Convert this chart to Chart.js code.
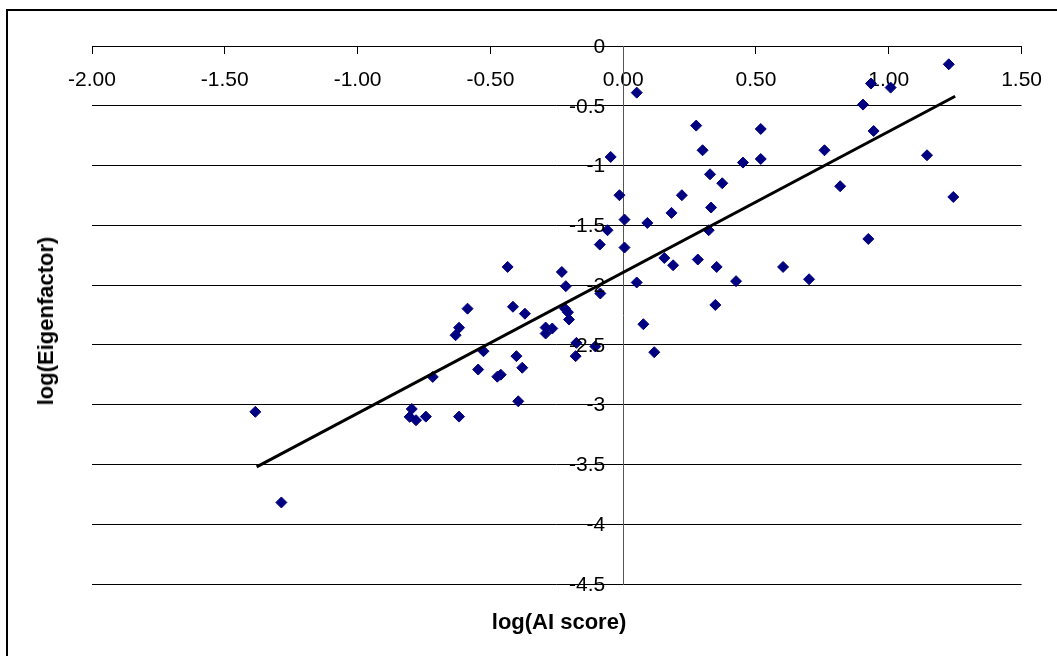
<!DOCTYPE html>
<html>
<head>
<meta charset="utf-8">
<script src="https://cdn.jsdelivr.net/npm/chart.js@4.4.1/dist/chart.umd.min.js"></script>
<style>
  html, body { margin: 0; padding: 0; background: #fff; }
  body { width: 1057px; height: 656px; position: relative; overflow: hidden; font-family: "Liberation Sans", Arial, sans-serif; }
  .frame { position: absolute; left: 6px; top: 9px; width: 1100px; height: 700px; border: 2px solid #000; }
  #chart { position: absolute; left: 0; top: 0; }
  .axis-title { position: absolute; font-weight: bold; font-size: 22px; color: #000; white-space: nowrap; }
  #xTitle { left: 559px; top: 622px; transform: translate(-50%, -50%); }
  #yTitle { left: 46px; top: 321px; transform: translate(-50%, -50%) rotate(-90deg); }
</style>
</head>
<body>
<div class="frame"></div>
<canvas id="chart" width="1057" height="656"></canvas>
<div class="axis-title" id="xTitle">log(AI score)</div>
<div class="axis-title" id="yTitle">log(Eigenfactor)</div>
<script>
// journals: log of AI score against log of Eigenfactor
const aiScore = [
  -1.385, -1.287, -0.804, -0.796, -0.780, -0.743, -0.717, -0.631, -0.618, -0.618,
  -0.586, -0.546, -0.526, -0.474, -0.461, -0.435, -0.415, -0.402, -0.395, -0.380,
  -0.370, -0.292, -0.292, -0.267, -0.231, -0.219, -0.216, -0.208, -0.204, -0.179,
  -0.176, -0.105, -0.088, -0.086, -0.059, -0.047, -0.014, 0.005, 0.005, 0.051,
  0.051, 0.076, 0.091, 0.117, 0.155, 0.182, 0.188, 0.221, 0.275, 0.281,
  0.299, 0.322, 0.327, 0.331, 0.347, 0.352, 0.373, 0.425, 0.451, 0.518,
  0.518, 0.602, 0.700, 0.758, 0.817, 0.903, 0.923, 0.933, 0.943, 1.007,
  1.144, 1.226, 1.243
];
const eigenfactor = [
  -3.060, -3.818, -3.102, -3.036, -3.130, -3.100, -2.768, -2.419, -2.356, -3.100,
  -2.197, -2.706, -2.553, -2.766, -2.749, -1.848, -2.181, -2.594, -2.972, -2.691,
  -2.239, -2.355, -2.405, -2.363, -1.890, -2.197, -2.009, -2.227, -2.288, -2.594,
  -2.483, -2.513, -1.661, -2.070, -1.541, -0.928, -1.248, -1.452, -1.686, -0.390,
  -1.978, -2.327, -1.480, -2.561, -1.773, -1.396, -1.834, -1.248, -0.666, -1.786,
  -0.872, -1.541, -1.073, -1.351, -2.166, -1.848, -1.148, -1.967, -0.975, -0.694,
  -0.945, -1.848, -1.951, -0.872, -1.173, -0.490, -1.614, -0.314, -0.711, -0.348,
  -0.914, -0.153, -1.263
];

// linear trend line end points
const trendX = [-1.38, 1.25];
const trendY = [-3.52, -0.42];

const xMin = -2, xMax = 1.5, xStep = 0.5;
const yMin = -4.5, yMax = 0, yStep = 0.5;

const FONT = '"Liberation Sans", Arial, sans-serif';
const NAVY = '#000080';

const points = aiScore.map((x, i) => ({ x, y: eigenfactor[i] }));
const trend = trendX.map((x, i) => ({ x, y: trendY[i] }));

// y labels sit left of the crossing axis, which chart.js won't offset for us
const yLabels = {
  id: 'yLabels',
  afterDraw(chart) {
    const { ctx, scales: { x, y } } = chart;
    const right = x.getPixelForValue(0) - 18;
    ctx.save();
    ctx.font = '21px ' + FONT;
    ctx.fillStyle = '#000';
    ctx.textAlign = 'right';
    ctx.textBaseline = 'middle';
    y.ticks.forEach(t => {
      ctx.fillText(String(+t.value.toFixed(1)), right, y.getPixelForValue(t.value) + 1);
    });
    ctx.restore();
  }
};

new Chart(document.getElementById('chart'), {
  type: 'scatter',
  data: {
    datasets: [
      { label: 'Linear', data: trend, showLine: true, borderColor: '#000', borderWidth: 3,
        pointRadius: 0, fill: false, order: 0 },
      { label: 'Journals', data: points, pointStyle: 'rectRot', pointRadius: 5.5,
        backgroundColor: NAVY, borderColor: NAVY, borderWidth: 1, order: 1 }
    ]
  },
  options: {
    responsive: false,
    animation: false,
    layout: { padding: { left: 92, top: 46, right: 34, bottom: 72 } },
    plugins: { legend: { display: false }, tooltip: { enabled: false } },
    scales: {
      x: {
        type: 'linear', min: xMin, max: xMax,
        position: { y: 0 },
        ticks: { stepSize: xStep, callback: v => v.toFixed(2), color: '#000',
          font: { family: FONT, size: 21 }, padding: 15, maxRotation: 0 },
        grid: { drawOnChartArea: false, drawTicks: true, tickLength: 7, color: '#000' },
        border: { display: true, color: '#000', width: 1 }
      },
      y: {
        type: 'linear', min: yMin, max: yMax,
        position: { x: 0 },
        ticks: { stepSize: yStep, display: false },
        grid: { color: '#000', lineWidth: 1, tickLength: 7 },
        border: { display: true, color: '#555', width: 1 }
      }
    }
  },
  plugins: [yLabels]
});
</script>
</body>
</html>
